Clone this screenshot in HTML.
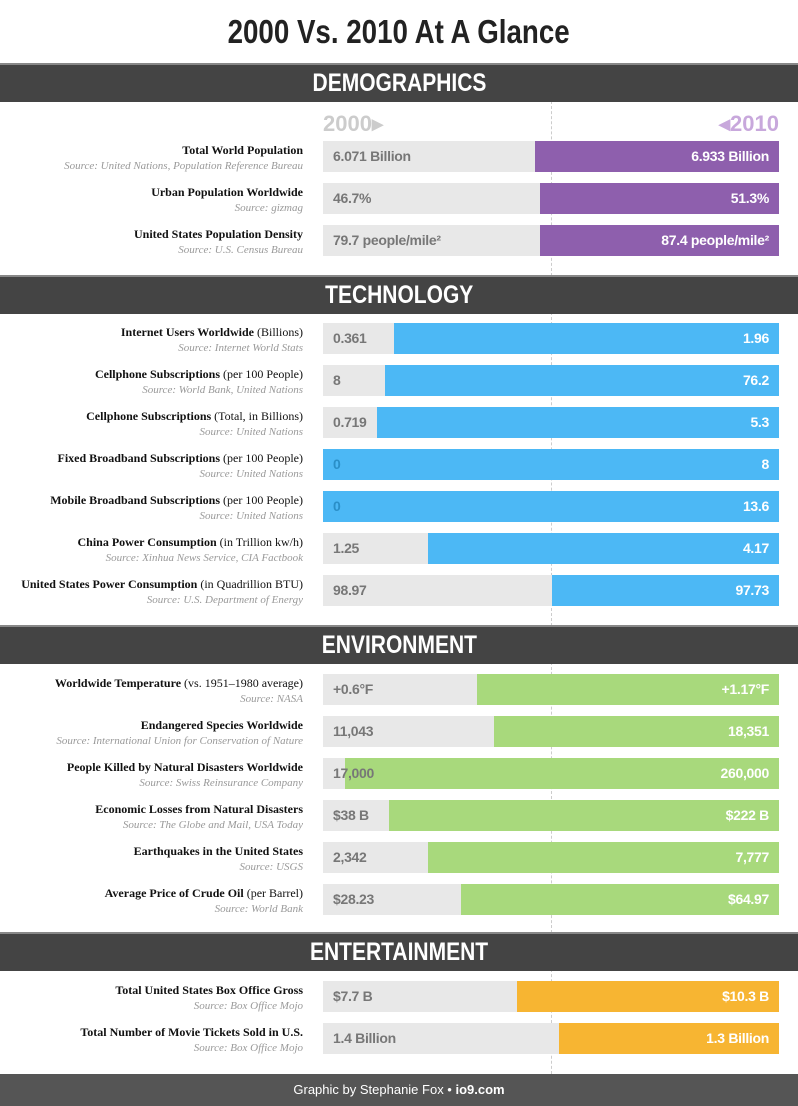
<!DOCTYPE html>
<html><head><meta charset="utf-8"><style>
body{margin:0;width:798px;height:1106px;background:#fff;position:relative;overflow:hidden;font-family:"Liberation Sans Narrow","Liberation Sans",sans-serif}
.t{position:absolute;left:0;width:798px;top:13px;text-align:center;font-size:33px;font-weight:bold;color:#222}
.t span,.h span{display:inline-block;transform:scaleX(0.84)}
.h{position:absolute;left:0;width:798px;height:37px;background:#444;color:#fff;text-align:center;font-size:25px;font-weight:bold;line-height:37px;border-top:2px solid #888}
.g{position:absolute;left:323px;width:456px;height:31px;background:#e8e8e8}
.g span{position:absolute;left:10px;top:0;line-height:31px;font-size:14px;font-weight:bold;color:#777;letter-spacing:-0.3px}
.c{position:absolute;right:0;top:0;height:31px}
.c span{position:absolute;right:10px;left:auto;color:#fff;white-space:nowrap}
.l{position:absolute;right:495px;text-align:right;white-space:nowrap}
.l b{display:block;font-family:"Liberation Serif",serif;font-size:12px;color:#111}
.l b i{font-style:normal;font-weight:normal}
.l em{display:block;font-family:"Liberation Serif",serif;font-size:11px;color:#999;margin-top:2px}
.dash{position:absolute;left:551px;width:0;border-left:1px dashed #ccc}
.f{position:absolute;left:0;top:1074px;width:798px;height:32px;background:#555;color:#fff;text-align:center;line-height:32px;font-size:13px}
.p{background:#8e5fad}.b{background:#4cb8f5}.gr{background:#a8d97c}.o{background:#f7b532}
</style></head><body>
<div class="t"><span>2000 Vs. 2010 At A Glance</span></div>
<div class="dash" style="top:101px;height:175px"></div>
<div class="dash" style="top:312px;height:314px"></div>
<div class="dash" style="top:662px;height:271px"></div>
<div class="dash" style="top:969px;height:105px"></div>

<div class="h" style="top:63px"><span>DEMOGRAPHICS</span></div>
<div style="position:absolute;left:323px;top:111px;font-size:22px;font-weight:bold;color:#ccc">2000▸</div>
<div style="position:absolute;right:19px;top:111px;font-size:22px;font-weight:bold;color:#c8a8dc">◂2010</div>

<div class="l" style="top:143px"><b>Total World Population</b><em>Source: United Nations, Population Reference Bureau</em></div>
<div class="g" style="top:141px"><span>6.071 Billion</span><div class="c p" style="left:212px"><span>6.933 Billion</span></div></div>
<div class="l" style="top:185px"><b>Urban Population Worldwide</b><em>Source: gizmag</em></div>
<div class="g" style="top:183px"><span>46.7%</span><div class="c p" style="left:217px"><span>51.3%</span></div></div>
<div class="l" style="top:227px"><b>United States Population Density</b><em>Source: U.S. Census Bureau</em></div>
<div class="g" style="top:225px"><span>79.7 people/mile²</span><div class="c p" style="left:217px"><span>87.4 people/mile²</span></div></div>

<div class="h" style="top:275px"><span>TECHNOLOGY</span></div>
<div class="l" style="top:325px"><b>Internet Users Worldwide <i>(Billions)</i></b><em>Source: Internet World Stats</em></div>
<div class="g" style="top:323px"><span>0.361</span><div class="c b" style="left:71px"><span>1.96</span></div></div>
<div class="l" style="top:367px"><b>Cellphone Subscriptions <i>(per 100 People)</i></b><em>Source: World Bank, United Nations</em></div>
<div class="g" style="top:365px"><span>8</span><div class="c b" style="left:62px"><span>76.2</span></div></div>
<div class="l" style="top:409px"><b>Cellphone Subscriptions <i>(Total, in Billions)</i></b><em>Source: United Nations</em></div>
<div class="g" style="top:407px"><span>0.719</span><div class="c b" style="left:54px"><span>5.3</span></div></div>
<div class="l" style="top:451px"><b>Fixed Broadband Subscriptions <i>(per 100 People)</i></b><em>Source: United Nations</em></div>
<div class="g" style="top:449px"><div class="c b" style="left:0"><span>8</span></div><span style="color:#2a8fc8">0</span></div>
<div class="l" style="top:493px"><b>Mobile Broadband Subscriptions <i>(per 100 People)</i></b><em>Source: United Nations</em></div>
<div class="g" style="top:491px"><div class="c b" style="left:0"><span>13.6</span></div><span style="color:#2a8fc8">0</span></div>
<div class="l" style="top:535px"><b>China Power Consumption <i>(in Trillion kw/h)</i></b><em>Source: Xinhua News Service, CIA Factbook</em></div>
<div class="g" style="top:533px"><span>1.25</span><div class="c b" style="left:105px"><span>4.17</span></div></div>
<div class="l" style="top:577px"><b>United States Power Consumption <i>(in Quadrillion BTU)</i></b><em>Source: U.S. Department of Energy</em></div>
<div class="g" style="top:575px"><span>98.97</span><div class="c b" style="left:229px"><span>97.73</span></div></div>

<div class="h" style="top:625px"><span>ENVIRONMENT</span></div>
<div class="l" style="top:676px"><b>Worldwide Temperature <i>(vs. 1951–1980 average)</i></b><em>Source: NASA</em></div>
<div class="g" style="top:674px"><span>+0.6°F</span><div class="c gr" style="left:154px"><span>+1.17°F</span></div></div>
<div class="l" style="top:718px"><b>Endangered Species Worldwide</b><em>Source: International Union for Conservation of Nature</em></div>
<div class="g" style="top:716px"><span>11,043</span><div class="c gr" style="left:171px"><span>18,351</span></div></div>
<div class="l" style="top:760px"><b>People Killed by Natural Disasters Worldwide</b><em>Source: Swiss Reinsurance Company</em></div>
<div class="g" style="top:758px"><div class="c gr" style="left:22px"><span>260,000</span></div><span>17,000</span></div>
<div class="l" style="top:802px"><b>Economic Losses from Natural Disasters</b><em>Source: The Globe and Mail, USA Today</em></div>
<div class="g" style="top:800px"><span>$38 B</span><div class="c gr" style="left:66px"><span>$222 B</span></div></div>
<div class="l" style="top:844px"><b>Earthquakes in the United States</b><em>Source: USGS</em></div>
<div class="g" style="top:842px"><span>2,342</span><div class="c gr" style="left:105px"><span>7,777</span></div></div>
<div class="l" style="top:886px"><b>Average Price of Crude Oil <i>(per Barrel)</i></b><em>Source: World Bank</em></div>
<div class="g" style="top:884px"><span>$28.23</span><div class="c gr" style="left:138px"><span>$64.97</span></div></div>

<div class="h" style="top:932px"><span>ENTERTAINMENT</span></div>
<div class="l" style="top:983px"><b>Total United States Box Office Gross</b><em>Source: Box Office Mojo</em></div>
<div class="g" style="top:981px"><span>$7.7 B</span><div class="c o" style="left:194px"><span>$10.3 B</span></div></div>
<div class="l" style="top:1025px"><b>Total Number of Movie Tickets Sold in U.S.</b><em>Source: Box Office Mojo</em></div>
<div class="g" style="top:1023px"><span>1.4 Billion</span><div class="c o" style="left:236px"><span>1.3 Billion</span></div></div>

<div class="f">Graphic by Stephanie Fox • <b>io9.com</b></div>
</body></html>
